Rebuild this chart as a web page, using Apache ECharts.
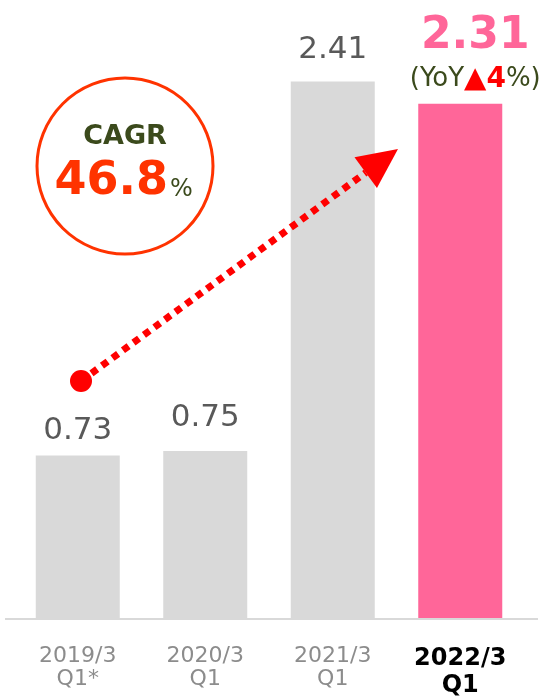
<!DOCTYPE html>
<html>
<head>
<meta charset="utf-8">
<script src="https://cdn.jsdelivr.net/npm/echarts@6/dist/echarts.min.js"></script>
<style>
html,body{margin:0;padding:0;background:#fff;}
#c{width:558px;height:698px;}
</style>
</head>
<body>
<div id="c"></div>
<script>
const categories = ['2019/3\nQ1*', '2020/3\nQ1', '2021/3\nQ1', '2022/3\nQ1'];
const values = [0.73, 0.75, 2.41, 2.31];
const labelDistances = [9, 18, 16, 6];
const yoyValue = '4';
const cagrValue = '46.8';

const FONT = '"DejaVu Sans", Verdana, sans-serif';
const OLIVE = '#3b4a1c';

const chart = echarts.init(document.getElementById('c'), null, {renderer: 'canvas'});

const barData = values.map(function (v, i) {
  const last = i === values.length - 1;
  const item = {
    value: v,
    itemStyle: {color: last ? '#FF6699' : '#D9D9D9'},
    label: {distance: labelDistances[i]}
  };
  if (last) {
    item.label = {
      distance: labelDistances[i],
      offset: [15, 0],
      formatter: '{v|' + v.toFixed(2) + '}\n{y|(YoY}{t|▲}{p|' + yoyValue + '}{y|%)}',
      rich: {
        v: {fontFamily: FONT, fontSize: 44, fontWeight: 'bold', color: '#FF6699', lineHeight: 48},
        y: {fontFamily: FONT, fontSize: 26, color: OLIVE, lineHeight: 37},
        t: {fontFamily: FONT, fontSize: 29, color: '#FF0000', lineHeight: 37},
        p: {fontFamily: FONT, fontSize: 28, fontWeight: 'bold', color: '#FF0000', lineHeight: 37}
      }
    };
  }
  return item;
});

// arrow geometry (annotation)
const p0 = [81, 381], tip = [398, 149];
const dx = tip[0] - p0[0], dy = tip[1] - p0[1];
const L = Math.sqrt(dx * dx + dy * dy);
const ux = dx / L, uy = dy / L, nx = -uy, ny = ux;
const headLen = 40, headHalf = 19;
const base = [tip[0] - headLen * ux, tip[1] - headLen * uy];

const option = {
  animation: false,
  backgroundColor: '#ffffff',
  grid: {left: 14, right: 34, top: 17, bottom: 80, containLabel: false},
  xAxis: {
    type: 'category',
    data: categories,
    axisLine: {show: false},
    axisTick: {show: false},
    axisLabel: {
      margin: 27,
      interval: 0,
      formatter: function (val, idx) {
        const parts = val.split('\n');
        const k = idx === categories.length - 1 ? 'b' : 'n';
        return parts.map(function (p) { return '{' + k + '|' + p + '}'; }).join('\n');
      },
      rich: {
        n: {fontFamily: FONT, fontSize: 22, color: '#8c8c8c', lineHeight: 23},
        b: {fontFamily: FONT, fontSize: 24, fontWeight: 'bold', color: '#000000', lineHeight: 27}
      }
    }
  },
  yAxis: {
    type: 'value', min: 0, max: 2.7, show: false,
    splitLine: {show: false}
  },
  series: [{
    type: 'bar',
    data: barData,
    barWidth: 84,
    label: {
      show: true,
      position: 'top',
      fontFamily: FONT,
      fontSize: 31,
      color: '#595959',
      formatter: function (p) { return p.value.toFixed(2); }
    }
  }],
  graphic: [
    {type: 'line', shape: {x1: 5, y1: 619, x2: 538, y2: 619}, style: {stroke: '#D9D9D9', lineWidth: 2}, z: 100},
    {type: 'circle', shape: {cx: 125, cy: 166, r: 88}, style: {fill: 'none', stroke: '#FF3300', lineWidth: 3}},
    {type: 'text', x: 125, y: 137, style: {text: 'CAGR', fontFamily: FONT, fontSize: 27, fontWeight: 'bold', fill: OLIVE, textAlign: 'center', textVerticalAlign: 'middle'}},
    {type: 'text', x: 168, y: 182, style: {text: cagrValue, fontFamily: FONT, fontSize: 46, fontWeight: 'bold', fill: '#FF3300', textAlign: 'right', textVerticalAlign: 'middle'}},
    {type: 'text', x: 170, y: 190, style: {text: '%', fontFamily: FONT, fontSize: 24, fill: OLIVE, textAlign: 'left', textVerticalAlign: 'middle'}},
    {type: 'line', shape: {x1: p0[0], y1: p0[1], x2: base[0], y2: base[1]}, style: {stroke: '#FF0000', lineWidth: 7, lineDash: [7, 6], lineCap: 'butt'}, z: 110},
    {type: 'circle', shape: {cx: p0[0], cy: p0[1], r: 11}, style: {fill: '#FF0000'}, z: 111},
    {type: 'polygon', shape: {points: [tip, [base[0] + headHalf * nx, base[1] + headHalf * ny], [base[0] - headHalf * nx, base[1] - headHalf * ny]]}, style: {fill: '#FF0000'}, z: 111}
  ]
};
chart.setOption(option);
</script>
</body>
</html>
